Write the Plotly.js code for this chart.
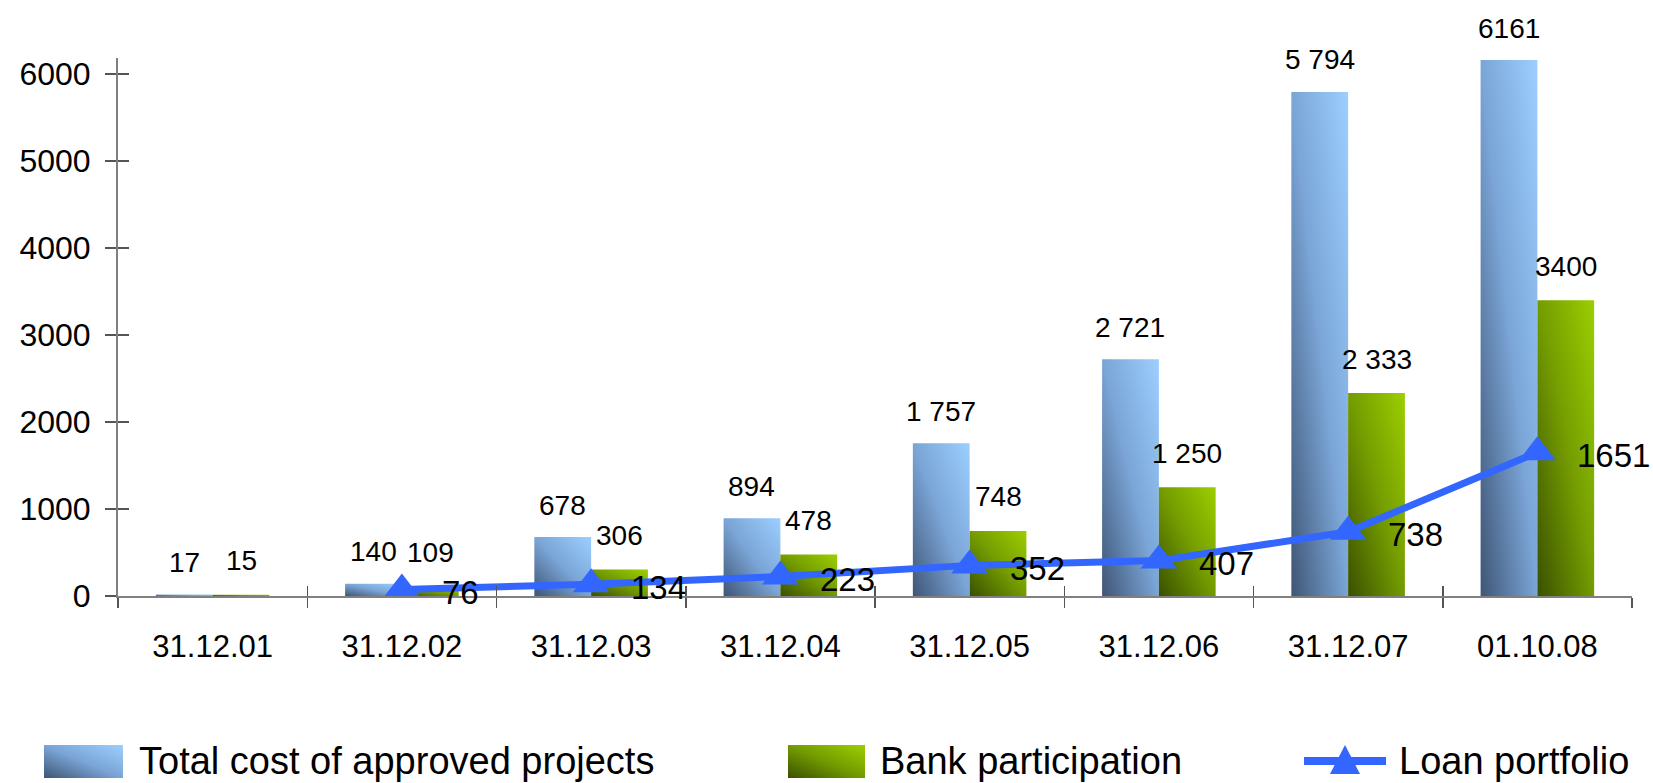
<!DOCTYPE html>
<html>
<head>
<meta charset="utf-8">
<script src="https://cdn.plot.ly/plotly-3.0.1.min.js"></script>
<style>
  html, body { margin: 0; padding: 0; background: #ffffff; }
  #chart { width: 1653px; height: 783px; }
</style>
</head>
<body>
<div id="chart"></div>
<script>
// ---------------- data ----------------
const categories = ['31.12.01', '31.12.02', '31.12.03', '31.12.04', '31.12.05', '31.12.06', '31.12.07', '01.10.08'];
const totalCost = [17, 140, 678, 894, 1757, 2721, 5794, 6161];
const bankParticipation = [15, 109, 306, 478, 748, 1250, 2333, 3400];
const loanPortfolio = [null, 76, 134, 223, 352, 407, 738, 1651];
const totalCostLabels = ['17', '140', '678', '894', '1 757', '2 721', '5 794', '6161'];
const bankLabels = ['15', '109', '306', '478', '748', '1 250', '2 333', '3400'];
const loanLabels = ['', '76', '134', '223', '352', '407', '738', '1651'];
const seriesNames = ['Total cost of approved projects', 'Bank participation', 'Loan portfolio'];
const yTicks = [0, 1000, 2000, 3000, 4000, 5000, 6000];

// ---------------- layout geometry ----------------
const W = 1653, H = 783;
const M = { l: 118, r: 21, t: 58, b: 187 };
const plotW = W - M.l - M.r;
const plotH = H - M.t - M.b;
const catW = plotW / categories.length;
const bargap = 0.4;
const barOffsetPx = (1 - bargap) / 4 * catW; // centre of each bar in a 2-bar group

const FONT = 'Liberation Sans, Arial, sans-serif';
const blue = '#3366ff';

// pixel -> paper helpers (for the hand-built legend)
const pxX = x => (x - M.l) / plotW;
const pxY = y => (H - M.b - y) / plotH;

// check whether a narrow sans font is installed
function fontAvailable(name) {
  const c = document.createElement('canvas').getContext('2d');
  const s = 'Bank participation Loan portfolio';
  c.font = '40px monospace';
  const a = c.measureText(s).width;
  c.font = '40px "' + name + '", monospace';
  const b = c.measureText(s).width;
  return Math.abs(a - b) > 1;
}
const narrow = fontAvailable('Liberation Sans Narrow');
const legendFont = narrow
  ? { family: 'Liberation Sans Narrow, Arial Narrow, sans-serif', size: 46, color: '#000' }
  : { family: FONT, size: 38, color: '#000' };

// ---------------- traces ----------------
const traces = [
  {
    type: 'bar', name: seriesNames[0], x: categories, y: totalCost,
    marker: { color: '#7ea8d8' }, hoverinfo: 'x+y'
  },
  {
    type: 'bar', name: seriesNames[1], x: categories, y: bankParticipation,
    marker: { color: '#79a300' }, hoverinfo: 'x+y'
  },
  {
    type: 'scatter', mode: 'lines+markers', name: seriesNames[2],
    x: categories, y: loanPortfolio, xaxis: 'x2', yaxis: 'y2',
    connectgaps: false,
    line: { color: blue, width: 7 },
    marker: { symbol: 'triangle-up', size: 32, color: blue }
  }
];

// ---------------- annotations (data labels) ----------------
const annotations = [];
categories.forEach((c, i) => {
  annotations.push({
    xref: 'x', yref: 'y', x: c, y: totalCost[i], text: totalCostLabels[i],
    showarrow: false, xshift: -barOffsetPx, yshift: 32, yanchor: 'middle',
    font: { family: FONT, size: 28, color: '#000' }
  });
  annotations.push({
    xref: 'x', yref: 'y', x: c, y: bankParticipation[i], text: bankLabels[i],
    showarrow: false, xshift: barOffsetPx, yshift: 34, yanchor: 'middle',
    font: { family: FONT, size: 28, color: '#000' }
  });
  if (loanPortfolio[i] !== null) {
    annotations.push({
      xref: 'x', yref: 'y', x: c, y: loanPortfolio[i], text: loanLabels[i],
      showarrow: false, xanchor: 'left', xshift: 38, yanchor: 'middle', yshift: -3,
      font: { family: FONT, size: 33, color: '#000' }
    });
  }
});

// hand-built legend (large symbols like the original)
const legendY = 761;
const legendItems = [
  { text: seriesNames[0], x: 137 },
  { text: seriesNames[1], x: 878 },
  { text: seriesNames[2], x: 1397 }
];
legendItems.forEach(it => {
  annotations.push({
    xref: 'paper', yref: 'paper', x: pxX(it.x), y: pxY(legendY), text: it.text,
    xanchor: 'left', yanchor: 'middle', showarrow: false, font: legendFont
  });
});

const shapes = [
  { type: 'rect', xref: 'paper', yref: 'paper', x0: pxX(44), x1: pxX(123), y0: pxY(778), y1: pxY(745),
    line: { width: 0 }, fillcolor: '#7ea8d8' },
  { type: 'rect', xref: 'paper', yref: 'paper', x0: pxX(788), x1: pxX(865), y0: pxY(778), y1: pxY(745),
    line: { width: 0 }, fillcolor: '#79a300' },
  { type: 'line', xref: 'paper', yref: 'paper', x0: pxX(1304), x1: pxX(1386), y0: pxY(legendY), y1: pxY(legendY),
    line: { color: blue, width: 8 } },
  { type: 'path', xref: 'paper', yref: 'paper',
    path: 'M' + pxX(1330) + ',' + pxY(774) + ' L' + pxX(1360) + ',' + pxY(774) + ' L' + pxX(1345) + ',' + pxY(745) + ' Z',
    line: { width: 0 }, fillcolor: blue }
];

// ---------------- layout ----------------
const yRange = [0, 6184];
const xRange = [-0.5, categories.length - 0.5];
const layout = {
  width: W, height: H,
  margin: M,
  paper_bgcolor: '#ffffff', plot_bgcolor: '#ffffff',
  showlegend: false,
  barmode: 'group', bargap: bargap, bargroupgap: 0,
  font: { family: FONT, color: '#000' },
  xaxis: {
    type: 'category', categoryorder: 'array', categoryarray: categories,
    range: xRange, tickson: 'boundaries', ticks: 'outside', ticklen: 10,
    tickwidth: 1.5, tickcolor: '#555', showline: true, linecolor: '#808080', linewidth: 2,
    showgrid: false, zeroline: false, ticklabelstandoff: 22,
    tickfont: { family: FONT, size: 31, color: '#000' }
  },
  yaxis: {
    range: yRange, tickvals: yTicks, ticks: 'outside', ticklen: 11,
    tickwidth: 1.5, tickcolor: '#555', showline: true, linecolor: '#808080', linewidth: 2,
    showgrid: false, zeroline: false, ticklabelstandoff: 8,
    tickfont: { family: FONT, size: 32, color: '#000' }
  },
  xaxis2: {
    type: 'category', categoryorder: 'array', categoryarray: categories,
    overlaying: 'x', side: 'bottom', range: xRange, tickson: 'boundaries',
    ticks: 'inside', ticklen: 10, tickwidth: 1.5, tickcolor: '#555',
    showticklabels: false, showline: false, showgrid: false, zeroline: false
  },
  yaxis2: {
    overlaying: 'y', side: 'left', range: yRange, tickvals: yTicks,
    ticks: 'inside', ticklen: 11, tickwidth: 1.5, tickcolor: '#555',
    showticklabels: false, showline: false, showgrid: false, zeroline: false
  },
  annotations: annotations,
  shapes: shapes
};

// ---------------- gradients (post-render styling) ----------------
function addGradients(gd) {
  const svg = gd.querySelector('svg.main-svg');
  const NS = 'http://www.w3.org/2000/svg';
  let defs = svg.querySelector('defs');
  if (!defs) { defs = document.createElementNS(NS, 'defs'); svg.insertBefore(defs, svg.firstChild); }
  const grads = {
    gradBlue: [['0', '#3f5575'], ['0.5', '#7aa5d6'], ['1', '#9ccfff']],
    gradGreen: [['0', '#3a5000'], ['0.5', '#739b00'], ['1', '#9ccf00']]
  };
  Object.keys(grads).forEach(id => {
    const g = document.createElementNS(NS, 'linearGradient');
    g.setAttribute('id', id);
    g.setAttribute('x1', '0'); g.setAttribute('y1', '1');
    g.setAttribute('x2', '1'); g.setAttribute('y2', '0');
    grads[id].forEach(([o, c]) => {
      const s = document.createElementNS(NS, 'stop');
      s.setAttribute('offset', o); s.setAttribute('stop-color', c);
      g.appendChild(s);
    });
    defs.appendChild(g);
  });
  const barTraces = gd.querySelectorAll('.barlayer .trace.bars');
  const ids = ['gradBlue', 'gradGreen'];
  barTraces.forEach((t, i) => {
    t.querySelectorAll('.point path').forEach(p => { p.style.fill = 'url(#' + ids[i] + ')'; });
  });
  const s0 = gd.querySelector('.shapelayer path[data-index="0"]');
  const s1 = gd.querySelector('.shapelayer path[data-index="1"]');
  if (s0) s0.style.fill = 'url(#gradBlue)';
  if (s1) s1.style.fill = 'url(#gradGreen)';
}

Plotly.newPlot('chart', traces, layout, { staticPlot: true, displayModeBar: false })
  .then(gd => addGradients(gd));
</script>
</body>
</html>
